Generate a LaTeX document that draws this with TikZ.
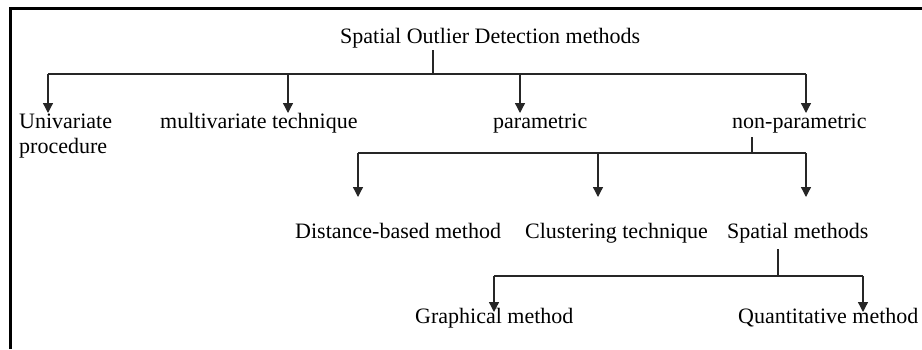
\documentclass[tikz,border=0pt]{standalone}
\usepackage{fontspec}
\setmainfont{Liberation Serif}
\usetikzlibrary{arrows.meta}
\begin{document}
\begin{tikzpicture}[x=1pt,y=-1pt,
  lbl/.style={anchor=base west,inner sep=0pt,font=\fontsize{22}{25}\selectfont},
  conn/.style={line width=1.3pt,draw=black!85},
  arr/.style={conn,-{Triangle[length=10pt,width=10pt]}},
  frame/.style={line width=2.6pt}]
\useasboundingbox (0,0) rectangle (922,349);
% frame
\draw[frame] (10.5,349) -- (10.5,8.5) -- (922,8.5);
% labels
\node[lbl] (root) at (340,43) {Spatial Outlier Detection methods};
\node[lbl] (uni) at (19,128) {\begin{tabular}[t]{@{}l@{}}Univariate\\procedure\end{tabular}};
\node[lbl] (multi) at (160,128) {multivariate technique};
\node[lbl] (param) at (493,128) {parametric};
\node[lbl] (nonp) at (732,128) {non-parametric};
\node[lbl] (dist) at (295,238) {Distance-based method};
\node[lbl] (clus) at (525,238) {Clustering technique};
\node[lbl] (spat) at (727,238) {Spatial methods};
\node[lbl] (graph) at (415,323) {Graphical method};
\node[lbl] (quant) at (738,323) {Quantitative method};
% junction coordinates
\coordinate (r0) at (433,50);
\coordinate (r1) at (433,74);
\coordinate (a1) at (48,74);   \coordinate (t1) at (48,113);
\coordinate (a2) at (288,74);  \coordinate (t2) at (288,113);
\coordinate (a3) at (520,74);  \coordinate (t3) at (520,113);
\coordinate (a4) at (806,74);  \coordinate (t4) at (806,113);
\coordinate (n0) at (752,137);
\coordinate (n1) at (752,153);
\coordinate (b1) at (358,153); \coordinate (u1) at (358,197);
\coordinate (b2) at (598,153); \coordinate (u2) at (598,197);
\coordinate (b3) at (806,153); \coordinate (u3) at (806,197);
\coordinate (s0) at (778,249);
\coordinate (s1) at (778,276);
\coordinate (c1) at (494,276); \coordinate (v1) at (494,312);
\coordinate (c2) at (863,276); \coordinate (v2) at (863,312);
% level 1
\draw[conn] (r0) -- (r1);
\draw[conn] (a1) -- (a4);
\draw[arr] (a1) -- (t1);
\draw[arr] (a2) -- (t2);
\draw[arr] (a3) -- (t3);
\draw[arr] (a4) -- (t4);
% level 2
\draw[conn] (n0) -- (n1);
\draw[conn] (b1) -- (b3);
\draw[arr] (b1) -- (u1);
\draw[arr] (b2) -- (u2);
\draw[arr] (b3) -- (u3);
% level 3
\draw[conn] (s0) -- (s1);
\draw[conn] (c1) -- (c2);
\draw[arr] (c1) -- (v1);
\draw[arr] (c2) -- (v2);
\end{tikzpicture}
\end{document}
